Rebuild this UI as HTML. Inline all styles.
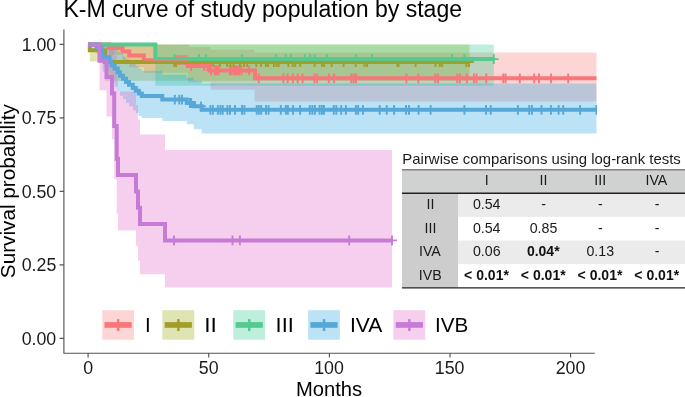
<!DOCTYPE html>
<html><head><meta charset="utf-8"><style>
html,body{margin:0;padding:0;background:#fff;}
body{width:685px;height:397px;overflow:hidden;position:relative;font-family:"Liberation Sans",sans-serif;}
svg{position:absolute;left:0;top:0;will-change:transform;}
text{font-family:"Liberation Sans",sans-serif;}
</style></head><body>
<svg width="685" height="397" viewBox="0 0 685 397">
<rect x="0" y="0" width="685" height="397" fill="#fff"/>
<text x="63.40" y="17.30" font-size="23.07" fill="#000">K-M curve of study population by stage</text>
<text transform="translate(15.00,278.13) rotate(-90) scale(1.0470,1)" font-size="19.8" fill="#000">Survival probability</text>
<text x="295.93" y="396.40" font-size="20.2" fill="#000">Months</text>
<text x="21.65" y="50.70" font-size="17.8" fill="#1a1a1a">1.00</text>
<text x="21.69" y="124.20" font-size="17.8" fill="#1a1a1a">0.75</text>
<text x="21.65" y="197.70" font-size="17.8" fill="#1a1a1a">0.50</text>
<text x="21.69" y="271.20" font-size="17.8" fill="#1a1a1a">0.25</text>
<text x="21.65" y="344.70" font-size="17.8" fill="#1a1a1a">0.00</text>
<text x="83.14" y="373.80" font-size="17.8" fill="#1a1a1a">0</text>
<text x="198.80" y="373.80" font-size="17.8" fill="#1a1a1a">50</text>
<text x="314.23" y="373.80" font-size="17.8" fill="#1a1a1a">100</text>
<text x="434.83" y="373.80" font-size="17.8" fill="#1a1a1a">150</text>
<text x="555.65" y="373.80" font-size="17.8" fill="#1a1a1a">200</text>
<path d="M63.9,29.5V353.2H594.8" fill="none" stroke="#555" stroke-width="1.15" stroke-linejoin="round"/>
<g stroke="#555" stroke-width="1.15">
<path d="M59.6,44.4H63.9M59.6,117.9H63.9M59.6,191.4H63.9M59.6,264.9H63.9M59.6,338.4H63.9"/>
<path d="M88.1,353.1V357.4M208.7,353.1V357.4M329.4,353.1V357.4M450,353.1V357.4M570.6,353.1V357.4"/>
</g>
<defs><clipPath id="pc"><rect x="64" y="30" width="533" height="323"/></clipPath></defs><g clip-path="url(#pc)"><path d="M88.1,44.4 L189.0,44.4 L189.0,47.0 L210.5,47.0 L210.5,49.7 L254.5,49.7 L254.5,52.4 L596.5,52.4 L596.5,101.5 L254.5,101.5 L254.5,89.7 L210.5,89.7 L210.5,82.3 L187.8,82.3 L187.8,72.7 L143.8,72.7 L143.8,67.3 L129.2,67.3 L129.2,61.5 L122.5,61.5 L122.5,55.1 L109.0,55.1 L109.0,44.4 L88.1,44.4Z" fill="#FA7474" fill-opacity="0.3"/>
<path d="M88.1,44.4 L89.8,44.4 L89.8,44.4 L105.0,44.4 L105.0,44.4 L469.5,44.4 L469.5,80.7 L105.0,80.7 L105.0,61.5 L89.8,61.5 L89.8,44.4 L88.1,44.4Z" fill="#98A200" fill-opacity="0.3"/>
<path d="M88.1,44.4 L155.3,44.4 L155.3,44.4 L493.8,44.4 L493.8,85.8 L155.3,85.8 L155.3,44.4 L88.1,44.4Z" fill="#28CB8C" fill-opacity="0.3"/>
<path d="M88.1,44.4 L96.5,44.4 L96.5,44.4 L101.5,44.4 L101.5,44.4 L102.5,44.4 L102.5,44.4 L109.4,44.4 L109.4,44.5 L111.6,44.5 L111.6,46.8 L114.6,46.8 L114.6,49.1 L117.7,49.1 L117.7,51.6 L119.9,51.6 L119.9,54.1 L123.0,54.1 L123.0,56.5 L126.0,56.5 L126.0,59.0 L129.0,59.0 L129.0,61.3 L132.8,61.3 L132.8,63.9 L135.8,63.9 L135.8,66.2 L138.8,66.2 L138.8,68.5 L141.8,68.5 L141.8,70.8 L162.3,70.8 L162.3,74.8 L186.8,74.8 L186.8,77.8 L193.8,77.8 L193.8,80.5 L201.7,80.5 L201.7,83.6 L596.5,83.6 L596.5,133.4 L201.7,133.4 L201.7,129.3 L193.8,129.3 L193.8,124.3 L186.8,124.3 L186.8,121.0 L162.3,121.0 L162.3,118.0 L141.8,118.0 L141.8,116.0 L138.8,116.0 L138.8,113.2 L135.8,113.2 L135.8,110.2 L132.8,110.2 L132.8,106.3 L129.0,106.3 L129.0,103.1 L126.0,103.1 L126.0,99.3 L123.0,99.3 L123.0,95.8 L119.9,95.8 L119.9,91.4 L117.7,91.4 L117.7,86.8 L114.6,86.8 L114.6,83.0 L111.6,83.0 L111.6,77.7 L109.4,77.7 L109.4,71.5 L102.5,71.5 L102.5,62.3 L101.5,62.3 L101.5,53.8 L96.5,53.8 L96.5,44.4 L88.1,44.4Z" fill="#22A3DD" fill-opacity="0.3"/>
<path d="M88.1,44.4 L99.5,44.4 L99.5,44.4 L106.5,44.4 L106.5,44.4 L112.0,44.4 L112.0,44.4 L114.2,44.4 L114.2,45.7 L114.2,45.7 L114.2,55.6 L116.7,55.6 L116.7,66.7 L116.7,66.7 L116.7,78.7 L118.0,78.7 L118.0,91.5 L136.0,91.5 L136.0,105.1 L138.0,105.1 L138.0,119.4 L140.0,119.4 L140.0,134.4 L165.0,134.4 L165.0,150.1 L392.0,150.1 L392.0,287.4 L165.0,287.4 L165.0,274.3 L140.0,274.3 L140.0,260.4 L138.0,260.4 L138.0,245.8 L136.0,245.8 L136.0,230.4 L118.0,230.4 L118.0,214.1 L116.7,214.1 L116.7,197.0 L116.7,197.0 L116.7,179.0 L114.2,179.0 L114.2,159.8 L114.2,159.8 L114.2,139.1 L112.0,139.1 L112.0,116.4 L106.5,116.4 L106.5,90.2 L99.5,90.2 L99.5,44.4 L88.1,44.4Z" fill="#E05FC8" fill-opacity="0.3"/>
<path d="M176.5,55.3V65.1M171.6,60.2H181.4M179.0,55.3V65.1M174.1,60.2H183.9M181.5,55.3V65.1M176.6,60.2H186.4M184.0,55.3V65.1M179.1,60.2H188.9M186.5,55.3V65.1M181.6,60.2H191.4M191.2,61.1V70.9M186.3,66.0H196.1M204.2,61.1V70.9M199.3,66.0H209.1M207.8,61.1V70.9M202.9,66.0H212.7M210.9,65.5V75.3M206.0,70.4H215.8M214.9,65.5V75.3M210.0,70.4H219.8M216.5,65.5V75.3M211.6,70.4H221.4M218.5,65.5V75.3M213.6,70.4H223.4M229.8,65.5V75.3M224.9,70.4H234.7M231.5,65.5V75.3M226.6,70.4H236.4M233.8,65.5V75.3M228.9,70.4H238.7M235.5,65.5V75.3M230.6,70.4H240.4M237.2,65.5V75.3M232.3,70.4H242.1M239.2,65.5V75.3M234.3,70.4H244.1M241.5,65.5V75.3M236.6,70.4H246.4M249.1,65.5V75.3M244.2,70.4H254.0M258.7,73.4V83.2M253.8,78.3H263.6M283.3,73.4V83.2M278.4,78.3H288.2M287.7,73.4V83.2M282.8,78.3H292.6M292.9,73.4V83.2M288.0,78.3H297.8M297.7,73.4V83.2M292.8,78.3H302.6M302.6,73.4V83.2M297.7,78.3H307.5M314.5,73.4V83.2M309.6,78.3H319.4M317.1,73.4V83.2M312.2,78.3H322.0M328.8,73.4V83.2M323.9,78.3H333.7M334.1,73.4V83.2M329.2,78.3H339.0M351.3,73.4V83.2M346.4,78.3H356.2M353.7,73.4V83.2M348.8,78.3H358.6M356.0,73.4V83.2M351.1,78.3H360.9M406.4,73.4V83.2M401.5,78.3H411.3M418.3,73.4V83.2M413.4,78.3H423.2M435.3,73.4V83.2M430.4,78.3H440.2M438.0,73.4V83.2M433.1,78.3H442.9M457.2,73.4V83.2M452.3,78.3H462.1M459.9,73.4V83.2M455.0,78.3H464.8M466.9,73.4V83.2M462.0,78.3H471.8M473.9,73.4V83.2M469.0,78.3H478.8M476.5,73.4V83.2M471.6,78.3H481.4M486.3,73.4V83.2M481.4,78.3H491.2M503.2,73.4V83.2M498.3,78.3H508.1M505.5,73.4V83.2M500.6,78.3H510.4M519.8,73.4V83.2M514.9,78.3H524.7M534.2,73.4V83.2M529.3,78.3H539.1M539.0,73.4V83.2M534.1,78.3H543.9M551.1,73.4V83.2M546.2,78.3H556.0M568.2,73.4V83.2M563.3,78.3H573.1" stroke="#F7777A" stroke-width="1.9" fill="none"/>
<path d="M174.4,57.1V66.9M169.5,62.0H179.3M176.0,57.1V66.9M171.1,62.0H180.9M213.4,57.1V66.9M208.5,62.0H218.3M219.9,57.1V66.9M215.0,62.0H224.8M227.1,57.1V66.9M222.2,62.0H232.0M230.3,57.1V66.9M225.4,62.0H235.2M233.5,57.1V66.9M228.6,62.0H238.4M240.0,57.1V66.9M235.1,62.0H244.9M244.0,57.1V66.9M239.1,62.0H248.9M247.1,57.1V66.9M242.2,62.0H252.0M256.3,57.1V66.9M251.4,62.0H261.2M261.1,57.1V66.9M256.2,62.0H266.0M265.9,57.1V66.9M261.0,62.0H270.8M268.1,57.1V66.9M263.2,62.0H273.0M273.9,57.1V66.9M269.0,62.0H278.8M276.4,57.1V66.9M271.5,62.0H281.3M278.7,57.1V66.9M273.8,62.0H283.6M288.3,57.1V66.9M283.4,62.0H293.2M292.7,57.1V66.9M287.8,62.0H297.6M295.3,57.1V66.9M290.4,62.0H300.2M300.2,57.1V66.9M295.3,62.0H305.1M314.6,57.1V66.9M309.7,62.0H319.5M321.9,57.1V66.9M317.0,62.0H326.8M324.2,57.1V66.9M319.3,62.0H329.1M331.6,57.1V66.9M326.7,62.0H336.5M343.5,57.1V66.9M338.6,62.0H348.4M355.7,57.1V66.9M350.8,62.0H360.6M364.5,57.1V66.9M359.6,62.0H369.4M367.1,57.1V66.9M362.2,62.0H372.0M397.5,57.1V66.9M392.6,62.0H402.4M398.5,57.1V66.9M393.6,62.0H403.4M415.5,57.1V66.9M410.6,62.0H420.4M435.5,57.1V66.9M430.6,62.0H440.4M439.8,57.1V66.9M434.9,62.0H444.7M442.1,57.1V66.9M437.2,62.0H447.0M466.4,57.1V66.9M461.5,62.0H471.3M469.0,57.1V66.9M464.1,62.0H473.9" stroke="#A39E28" stroke-width="1.9" fill="none"/>
<path d="M174.4,54.2V64.0M169.5,59.1H179.3M199.0,54.2V64.0M194.1,59.1H203.9M205.9,54.2V64.0M201.0,59.1H210.8M241.9,54.2V64.0M237.0,59.1H246.8M275.7,54.2V64.0M270.8,59.1H280.6M285.7,54.2V64.0M280.8,59.1H290.6M290.9,54.2V64.0M286.0,59.1H295.8M304.9,54.2V64.0M300.0,59.1H309.8M310.2,54.2V64.0M305.3,59.1H315.1M314.6,54.2V64.0M309.7,59.1H319.5M326.8,54.2V64.0M321.9,59.1H331.7M355.7,54.2V64.0M350.8,59.1H360.6M372.0,54.2V64.0M367.1,59.1H376.9M452.0,54.2V64.0M447.1,59.1H456.9M464.3,54.2V64.0M459.4,59.1H469.2M493.8,54.2V64.0M488.9,59.1H498.7" stroke="#55C98E" stroke-width="1.9" fill="none"/>
<path d="M174.8,94.7V104.5M169.9,99.6H179.7M179.3,94.7V104.5M174.4,99.6H184.2M182.0,94.7V104.5M177.1,99.6H186.9M189.9,98.1V107.9M185.0,103.0H194.8M191.2,98.1V107.9M186.3,103.0H196.1M201.0,101.4V111.2M196.1,106.3H205.9M210.4,104.9V114.7M205.5,109.8H215.3M212.9,104.9V114.7M208.0,109.8H217.8M217.8,104.9V114.7M212.9,109.8H222.7M220.4,104.9V114.7M215.5,109.8H225.3M222.7,104.9V114.7M217.8,109.8H227.6M227.4,104.9V114.7M222.5,109.8H232.3M230.0,104.9V114.7M225.1,109.8H234.9M235.0,104.9V114.7M230.1,109.8H239.9M242.0,104.9V114.7M237.1,109.8H246.9M244.4,104.9V114.7M239.5,109.8H249.3M256.7,104.9V114.7M251.8,109.8H261.6M258.9,104.9V114.7M254.0,109.8H263.8M261.2,104.9V114.7M256.3,109.8H266.1M266.0,104.9V114.7M261.1,109.8H270.9M268.6,104.9V114.7M263.7,109.8H273.5M280.8,104.9V114.7M275.9,109.8H285.7M285.8,104.9V114.7M280.9,109.8H290.7M287.9,104.9V114.7M283.0,109.8H292.8M293.1,104.9V114.7M288.2,109.8H298.0M300.1,104.9V114.7M295.2,109.8H305.0M309.8,104.9V114.7M304.9,109.8H314.7M312.4,104.9V114.7M307.5,109.8H317.3M314.9,104.9V114.7M310.0,109.8H319.8M319.6,104.9V114.7M314.7,109.8H324.5M321.9,104.9V114.7M317.0,109.8H326.8M324.0,104.9V114.7M319.1,109.8H328.9M333.7,104.9V114.7M328.8,109.8H338.6M336.3,104.9V114.7M331.4,109.8H341.2M341.2,104.9V114.7M336.3,109.8H346.1M345.9,104.9V114.7M341.0,109.8H350.8M355.9,104.9V114.7M351.0,109.8H360.8M358.2,104.9V114.7M353.3,109.8H363.1M362.9,104.9V114.7M358.0,109.8H367.8M379.7,104.9V114.7M374.8,109.8H384.6M386.7,104.9V114.7M381.8,109.8H391.6M394.1,104.9V114.7M389.2,109.8H399.0M406.0,104.9V114.7M401.1,109.8H410.9M409.0,104.9V114.7M404.1,109.8H413.9M418.6,104.9V114.7M413.7,109.8H423.5M430.6,104.9V114.7M425.7,109.8H435.5M464.4,104.9V114.7M459.5,109.8H469.3M486.0,104.9V114.7M481.1,109.8H490.9M490.7,104.9V114.7M485.8,109.8H495.6M517.9,104.9V114.7M513.0,109.8H522.8M529.2,104.9V114.7M524.3,109.8H534.1M531.9,104.9V114.7M527.0,109.8H536.8M541.5,104.9V114.7M536.6,109.8H546.4M550.9,104.9V114.7M546.0,109.8H555.8M558.6,104.9V114.7M553.7,109.8H563.5M563.2,104.9V114.7M558.3,109.8H568.1M580.1,104.9V114.7M575.2,109.8H585.0M596.4,104.9V114.7M591.5,109.8H601.3" stroke="#55A8D8" stroke-width="1.9" fill="none"/>
<path d="M174.0,235.5V245.3M169.1,240.4H178.9M232.5,235.5V245.3M227.6,240.4H237.4M239.9,235.5V245.3M235.0,240.4H244.8M349.2,235.5V245.3M344.3,240.4H354.1M392.0,235.5V245.3M387.1,240.4H396.9" stroke="#C67BD6" stroke-width="1.9" fill="none"/>
<path d="M88.1,44.4H109.0V47.9H122.5V51.4H129.2V55.4H143.8V60.2H187.8V66.0H210.0V70.4H255.0V78.3H596.5" fill="none" stroke="#F7777A" stroke-width="4.0" stroke-linejoin="miter"/>
<path d="M88.1,44.4H89.8V50.3H105.0V62.0H469.5" fill="none" stroke="#A39E28" stroke-width="4.0" stroke-linejoin="miter"/>
<path d="M88.1,44.4H155.3V59.1H493.8" fill="none" stroke="#55C98E" stroke-width="4.0" stroke-linejoin="miter"/>
<path d="M88.1,44.4H96.5V47.6H101.5V52.0H102.5V57.3H109.4V61.6H111.6V65.5H114.6V68.6H117.7V72.2H119.9V75.8H123.0V78.8H126.0V82.0H129.0V84.8H132.8V88.1H135.8V90.8H138.8V93.4H141.8V96.1H162.3V99.6H186.8V103.0H193.8V106.3H201.7V109.8H596.5" fill="none" stroke="#55A8D8" stroke-width="4.0" stroke-linejoin="miter"/>
<path d="M88.1,44.4H99.5V60.7H106.5V77.1H112.0V93.4H114.2V109.7H114.2V126.1H116.7V142.4H116.7V158.7H118.0V175.1H136.0V191.4H138.0V207.7H140.0V224.1H165.0V240.4H392.0" fill="none" stroke="#C67BD6" stroke-width="4.0" stroke-linejoin="miter"/>
<path d="M144.5,60.7H188.5" stroke="#F7777A" stroke-width="1.1" fill="none"/></g>
<rect x="102.2" y="310.2" width="31.8" height="29.5" fill="#FA7474" fill-opacity="0.3"/>
<rect x="104.5" y="322.1" width="27.2" height="5.7" fill="#F7777A"/>
<rect x="116.9" y="319.1" width="2.5" height="11.9" fill="#F7777A"/>
<text transform="translate(145.10,331.80) scale(1.0069,1)" font-size="20.4" fill="#000">I</text>
<rect x="162.4" y="310.2" width="31.8" height="29.5" fill="#98A200" fill-opacity="0.3"/>
<rect x="164.7" y="322.1" width="27.2" height="5.7" fill="#A39E28"/>
<rect x="177.1" y="319.1" width="2.5" height="11.9" fill="#A39E28"/>
<text transform="translate(204.30,331.80) scale(1.1129,1)" font-size="20.4" fill="#000">II</text>
<rect x="233.3" y="310.2" width="31.8" height="29.5" fill="#28CB8C" fill-opacity="0.3"/>
<rect x="235.6" y="322.1" width="27.2" height="5.7" fill="#55C98E"/>
<rect x="248.0" y="319.1" width="2.5" height="11.9" fill="#55C98E"/>
<text transform="translate(275.59,331.80) scale(1.0675,1)" font-size="20.4" fill="#000">III</text>
<rect x="308.1" y="310.2" width="31.8" height="29.5" fill="#22A3DD" fill-opacity="0.3"/>
<rect x="310.4" y="322.1" width="27.2" height="5.7" fill="#55A8D8"/>
<rect x="322.8" y="319.1" width="2.5" height="11.9" fill="#55A8D8"/>
<text transform="translate(349.94,331.80) scale(1.0365,1)" font-size="20.4" fill="#000">IVA</text>
<rect x="393.4" y="310.2" width="31.8" height="29.5" fill="#E05FC8" fill-opacity="0.3"/>
<rect x="395.7" y="322.1" width="27.2" height="5.7" fill="#C67BD6"/>
<rect x="408.1" y="319.1" width="2.5" height="11.9" fill="#C67BD6"/>
<text transform="translate(434.99,331.80) scale(1.0121,1)" font-size="20.4" fill="#000">IVB</text>
<text x="402.37" y="163.90" font-size="14.92" fill="#1a1a1a">Pairwise comparisons using log-rank tests</text>
<rect x="402.0" y="170.0" width="283.0" height="23.30000000000001" fill="#d0d1d1"/>
<rect x="402.0" y="193.3" width="56.0" height="94.39999999999998" fill="#cdcdcd"/>
<rect x="458.0" y="193.3" width="227.0" height="23.599999999999994" fill="#ebebeb"/>
<rect x="458.0" y="240.5" width="227.0" height="23.600000000000023" fill="#ebebeb"/>
<path d="M402.0,169.8H685.0" stroke="#808080" stroke-width="1.5"/>
<path d="M402.0,193.25H685.0" stroke="#222" stroke-width="1.3"/>
<path d="M402.0,287.9H685.0" stroke="#222" stroke-width="1.3"/>
<text x="484.80" y="184.90" font-size="14.2" fill="#1a1a1a">I</text>
<text x="539.58" y="184.90" font-size="14.2" fill="#1a1a1a">II</text>
<text x="594.36" y="184.90" font-size="14.2" fill="#1a1a1a">III</text>
<text x="645.47" y="184.90" font-size="14.2" fill="#1a1a1a">IVA</text>
<text x="426.56" y="209.00" font-size="14.2" fill="#1a1a1a">II</text>
<text x="472.88" y="209.00" font-size="14.2" fill="#1a1a1a">0.54</text>
<text x="541.15" y="209.00" font-size="14.2" fill="#1a1a1a">-</text>
<text x="597.90" y="209.00" font-size="14.2" fill="#1a1a1a">-</text>
<text x="654.65" y="209.00" font-size="14.2" fill="#1a1a1a">-</text>
<text x="424.59" y="232.60" font-size="14.2" fill="#1a1a1a">III</text>
<text x="472.88" y="232.60" font-size="14.2" fill="#1a1a1a">0.54</text>
<text x="529.72" y="232.60" font-size="14.2" fill="#1a1a1a">0.85</text>
<text x="597.90" y="232.60" font-size="14.2" fill="#1a1a1a">-</text>
<text x="654.65" y="232.60" font-size="14.2" fill="#1a1a1a">-</text>
<text x="418.94" y="256.30" font-size="14.2" fill="#1a1a1a">IVA</text>
<text x="472.98" y="256.30" font-size="14.2" fill="#1a1a1a">0.06</text>
<text x="526.90" y="256.30" font-size="14.0" font-weight="bold" fill="#111">0.04*</text>
<text x="586.48" y="256.30" font-size="14.2" fill="#1a1a1a">0.13</text>
<text x="654.65" y="256.30" font-size="14.2" fill="#1a1a1a">-</text>
<text x="418.77" y="279.90" font-size="14.2" fill="#1a1a1a">IVB</text>
<text x="464.11" y="279.90" font-size="14.0" font-weight="bold" fill="#111">&lt; 0.01*</text>
<text x="520.86" y="279.90" font-size="14.0" font-weight="bold" fill="#111">&lt; 0.01*</text>
<text x="577.61" y="279.90" font-size="14.0" font-weight="bold" fill="#111">&lt; 0.01*</text>
<text x="634.36" y="279.90" font-size="14.0" font-weight="bold" fill="#111">&lt; 0.01*</text>
</svg>
</body></html>
